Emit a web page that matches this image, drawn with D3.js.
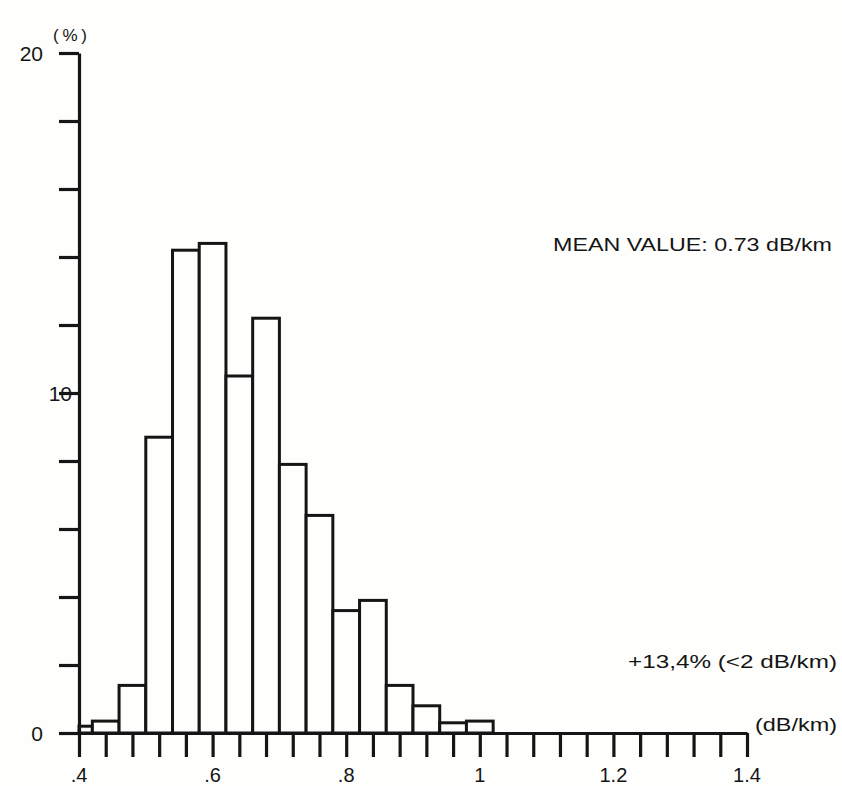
<!DOCTYPE html>
<html>
<head>
<meta charset="utf-8">
<script src="https://cdn.jsdelivr.net/npm/d3@7"></script>
<style>
  html, body { margin: 0; padding: 0; background: #fefefc; }
  .chart { width: 842px; height: 786px; }
  text { font-family: "Liberation Sans", Arial, sans-serif; fill: #151515; }
</style>
</head>
<body>
<div class="chart" id="chart"></div>
<script>
// histogram of fibre attenuation (dB/km), share of fibres in %
const binEdges = [0.40, 0.42, 0.46, 0.50, 0.54, 0.58, 0.62, 0.66, 0.70, 0.74, 0.78, 0.82, 0.86, 0.90, 0.94, 0.98, 1.02];
const percents = [0.2, 0.35, 1.4, 8.7, 14.2, 14.4, 10.5, 12.2, 7.9, 6.4, 3.6, 3.9, 1.4, 0.8, 0.3, 0.35];

const xLabelValues = [0.4, 0.6, 0.8, 1.0, 1.2, 1.4];
const xLabels = ['.4', '.6', '.8', '1', '1.2', '1.4'];
const yLabelValues = [0, 10, 20];
const yLabels = ['0', '10', '20'];

const W = 842, H = 786;
const margin = {t:53, r:95, b:53, l:79};
const w = W - margin.l - margin.r;
const h = H - margin.t - margin.b;

const x = d3.scaleLinear().domain([0.4, 1.4]).range([0, w]);
const y = d3.scaleLinear().domain([0, 20]).range([h, 0]);

const svg = d3.select('#chart').append('svg')
  .attr('width', W)
  .attr('height', H);

const plot = svg.append('g')
  .attr('transform', `translate(${margin.l}, ${margin.t})`);

// bars
const bins = percents.map((p, i) => ({x0: binEdges[i], x1: binEdges[i+1], p: p}));
plot.selectAll('rect.bar')
  .data(bins)
  .enter().append('rect')
  .attr('class', 'bar')
  .attr('x', d => x(d.x0))
  .attr('width', d => x(d.x1) - x(d.x0))
  .attr('y', d => y(d.p))
  .attr('height', d => y(0) - y(d.p))
  .attr('fill', '#fefefc')
  .attr('stroke', '#151515')
  .attr('stroke-width', 3);

// axes: ticks every 0.04 on x, every 2 % on y
const xTicks = d3.range(0, 26).map(i => 0.4 + i * 0.04);
const yTicks = d3.range(0, 11).map(i => i * 2);

const xAxis = plot.append('g')
  .attr('transform', `translate(0, ${h})`)
  .call(d3.axisBottom(x).tickValues(xTicks).tickSize(24).tickSizeOuter(0).tickFormat(''));

const yAxis = plot.append('g')
  .call(d3.axisLeft(y).tickValues(yTicks).tickSize(20).tickSizeOuter(0).tickFormat(''));

[xAxis, yAxis].forEach(a => {
  a.select('.domain').attr('stroke', '#151515').attr('stroke-width', 3.2);
  a.selectAll('.tick line').attr('stroke', '#151515').attr('stroke-width', 3.2);
});

// tick labels
plot.selectAll('text.xlab')
  .data(xLabelValues)
  .enter().append('text')
  .attr('class', 'xlab')
  .attr('x', d => x(d))
  .attr('y', h + 49)
  .attr('text-anchor', 'middle')
  .attr('font-size', 20)
  .text((d, i) => xLabels[i]);

plot.selectAll('text.ylab')
  .data(yLabelValues)
  .enter().append('text')
  .attr('class', 'ylab')
  .attr('x', d => d === 10 ? -7 : -36)
  .attr('y', d => y(d))
  .attr('dy', '0.36em')
  .attr('text-anchor', 'end')
  .attr('font-size', 21)
  .text((d, i) => yLabels[i]);

// units and notes
svg.append('text')
  .attr('x', 70).attr('y', 41)
  .attr('text-anchor', 'middle')
  .attr('font-size', 17)
  .attr('textLength', 34)
  .attr('lengthAdjust', 'spacing')
  .text('(%)');

svg.append('text')
  .attr('x', 553).attr('y', 251)
  .attr('font-size', 18)
  .attr('textLength', 279)
  .attr('lengthAdjust', 'spacingAndGlyphs')
  .text('MEAN VALUE: 0.73 dB/km');

svg.append('text')
  .attr('x', 628).attr('y', 668)
  .attr('font-size', 18)
  .attr('textLength', 209)
  .attr('lengthAdjust', 'spacingAndGlyphs')
  .text('+13,4% (<2 dB/km)');

svg.append('text')
  .attr('x', 755).attr('y', 731)
  .attr('font-size', 18)
  .attr('textLength', 82)
  .attr('lengthAdjust', 'spacingAndGlyphs')
  .text('(dB/km)');
</script>
</body>
</html>
